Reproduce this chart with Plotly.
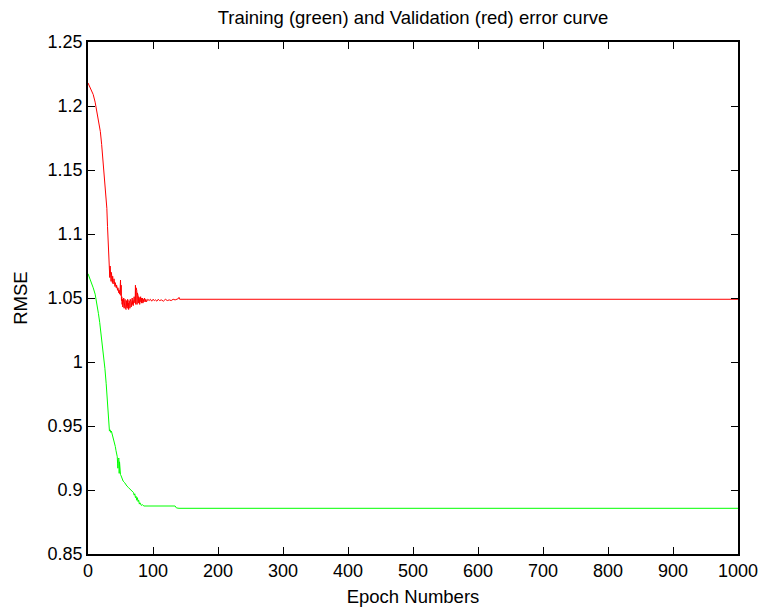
import plotly.graph_objects as go

# Validation (red) curve: epoch / RMSE pairs
val_epochs = [0, 4, 8, 11, 14, 17, 19, 21, 23, 25, 27, 29, 30, 31, 32,
              33, 33.5, 34, 34.5, 35, 35.5, 36, 36.5, 37, 37.5, 38, 38.5, 39, 39.5, 40, 40.5, 41, 41.5, 42,
              42.5, 43, 43.5, 44, 44.5, 45, 45.5, 46, 46.5, 47, 47.5, 48, 48.5, 49, 49.5, 50, 50.5, 51, 51.5, 52,
              52.5, 53, 53.5, 54, 54.5, 55, 55.5, 56, 56.5, 57, 57.5, 58, 58.5, 59, 59.5, 60, 60.5, 61, 61.5, 62,
              62.5, 63, 63.5, 64, 64.5, 65, 65.5, 66, 66.5, 67, 67.5, 68, 68.5, 69, 69.5, 70, 70.5, 71,
              71.5, 72, 72.5, 73, 73.5, 74, 74.5, 75, 75.5, 76, 76.5, 77,
              77.5, 78, 78.5, 79, 79.5, 80, 80.5, 81, 81.5, 82, 82.5, 83, 83.5, 84, 84.5, 85, 86, 87, 88, 89, 90,
              92, 94, 96, 98, 100, 102, 104, 106, 108, 110, 113, 116, 119, 122, 125, 128, 131, 134, 137, 139, 140, 141, 1000]
val_rmse = [1.218, 1.214, 1.209, 1.203, 1.195, 1.186, 1.180, 1.170, 1.159, 1.148, 1.136, 1.120, 1.106, 1.095, 1.084,
            1.078, 1.066, 1.075, 1.065, 1.073, 1.063, 1.070, 1.064, 1.068, 1.062, 1.067, 1.061, 1.066, 1.062, 1.065, 1.060, 1.063, 1.059, 1.062,
            1.058, 1.061, 1.058, 1.060, 1.057, 1.059, 1.056, 1.058, 1.055, 1.057, 1.054, 1.056, 1.053, 1.055, 1.058, 1.064, 1.052, 1.060, 1.048, 1.051,
            1.045, 1.049, 1.043, 1.048, 1.044, 1.050, 1.042, 1.047, 1.043, 1.049, 1.042, 1.046, 1.041, 1.048, 1.043, 1.047, 1.042, 1.049, 1.044, 1.046,
            1.041, 1.048, 1.043, 1.047, 1.042, 1.049, 1.044, 1.047, 1.043, 1.048, 1.044, 1.050, 1.045, 1.048, 1.044, 1.049, 1.046, 1.051,
            1.047, 1.055, 1.046, 1.060, 1.045, 1.058, 1.046, 1.056, 1.045, 1.054, 1.046, 1.052,
            1.046, 1.051, 1.046, 1.050, 1.045, 1.050, 1.046, 1.051, 1.047, 1.050, 1.046, 1.049, 1.047, 1.050, 1.046, 1.049, 1.047, 1.050, 1.047, 1.049, 1.047,
            1.049, 1.048, 1.049, 1.0475, 1.049, 1.048, 1.0485, 1.0475, 1.049, 1.048, 1.0485, 1.0475, 1.049, 1.048, 1.0485, 1.048, 1.049, 1.0485, 1.049, 1.0495, 1.0505, 1.049, 1.049]

# Training (green) curve
train_epochs = [0, 4, 8, 11, 13, 16, 18, 21, 23.5, 26, 28, 29, 30, 31,
                32, 33, 34, 35, 36, 37, 38, 39, 40, 41, 42, 43, 44, 45, 45.5, 46, 46.5, 47, 47.5,
                48, 48.5, 49, 49.5, 50, 51, 52, 53, 54, 56, 58, 60, 62, 64, 66, 68, 70, 71, 72,
                73, 74, 75, 76, 77, 78, 79, 80, 82, 84, 86, 90, 100, 110, 120, 134, 136, 140, 1000]
train_rmse = [1.069, 1.064, 1.058, 1.053, 1.048, 1.038, 1.031, 1.019, 1.009, 0.995, 0.983, 0.975, 0.965, 0.955,
              0.948, 0.946, 0.947, 0.945, 0.946, 0.944, 0.943, 0.942, 0.940, 0.937, 0.934, 0.931, 0.929, 0.926, 0.921, 0.917, 0.924, 0.914, 0.925,
              0.913, 0.922, 0.912, 0.918, 0.912, 0.911, 0.909, 0.908, 0.907, 0.906, 0.904, 0.903, 0.902, 0.901, 0.900, 0.899, 0.898, 0.896, 0.897,
              0.894, 0.895, 0.892, 0.894, 0.891, 0.892, 0.889, 0.890, 0.888, 0.8885, 0.8875, 0.8875, 0.8875, 0.8875, 0.8875, 0.8875, 0.886, 0.8857, 0.8857]

x_ticks = [0, 100, 200, 300, 400, 500, 600, 700, 800, 900, 1000]
x_tick_labels = ["0", "100", "200", "300", "400", "500", "600", "700", "800", "900", "1000"]
y_ticks = [0.85, 0.9, 0.95, 1.0, 1.05, 1.1, 1.15, 1.2, 1.25]
y_tick_labels = ["0.85", "0.9", "0.95", "1", "1.05", "1.1", "1.15", "1.2", "1.25"]

FONT = "Liberation Sans, Arial, sans-serif"
W, H = 772, 607

fig = go.Figure()
fig.add_trace(go.Scatter(x=train_epochs, y=train_rmse, mode="lines",
                         line=dict(color="#00ff00", width=1), showlegend=False))
fig.add_trace(go.Scatter(x=val_epochs, y=val_rmse, mode="lines",
                         line=dict(color="#ff0000", width=1), showlegend=False))

axis_common = dict(showline=True, linecolor="black", linewidth=1.5, mirror="allticks",
                   ticks="inside", ticklen=7, tickwidth=1, tickcolor="black",
                   showgrid=False, zeroline=False, automargin=False,
                   tickfont=dict(family=FONT, size=18, color="black"))

fig.update_xaxes(range=[0, 1000], tickvals=x_ticks, ticktext=x_tick_labels,
                 title=dict(text="Epoch Numbers", font=dict(family=FONT, size=18.5, color="black"), standoff=10),
                 **axis_common)
fig.update_yaxes(range=[0.85, 1.25], tickvals=y_ticks, ticktext=y_tick_labels,
                 title=dict(text="RMSE", font=dict(family=FONT, size=18.5, color="black"), standoff=15),
                 **axis_common)

fig.update_layout(
    width=W, height=H,
    margin=dict(l=88, r=34, t=42, b=53),
    paper_bgcolor="white", plot_bgcolor="white",
    title=dict(text="Training (green) and Validation (red) error curve",
               font=dict(family=FONT, size=18.5, color="black"),
               x=413 / W, xanchor="center", y=1 - 18 / H, yanchor="middle"),
)

fig.write_html("out.html", config={"displayModeBar": False},
               post_script="document.body.style.margin='0';")
